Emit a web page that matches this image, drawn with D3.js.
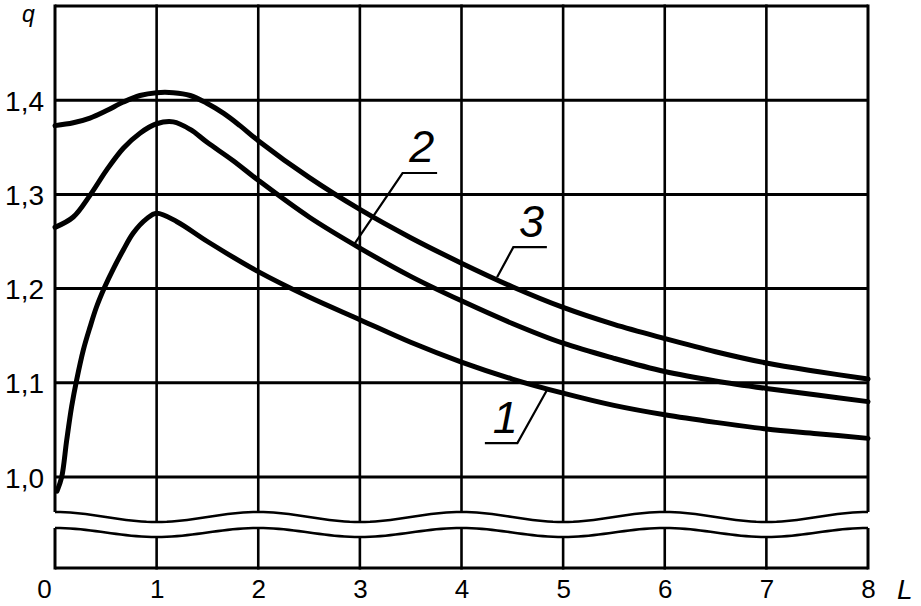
<!DOCTYPE html>
<html><head><meta charset="utf-8">
<script src="https://cdn.jsdelivr.net/npm/d3@7"></script>
<style>body{margin:0;background:#fff}svg{display:block}</style>
</head><body>
<svg id="c" width="921" height="606"></svg>
<script>
// ---- data ----
const xTicks = [0,1,2,3,4,5,6,7,8];
const yTicks = [1.0,1.1,1.2,1.3,1.4];
const yTickLabels = ["1,0","1,1","1,2","1,3","1,4"];
const yTop = 1.5;

const L1 = [0.02,0.066,0.115,0.164,0.213,0.279,0.344,0.41,0.49,0.574,0.672,0.77,0.9,1.0,1.2,1.5,2,2.5,3,3.5,4,4.5,5,5.5,6,6.5,7,7.5,8];
const q1 = [0.985,1.0,1.039,1.075,1.103,1.135,1.159,1.181,1.202,1.221,1.241,1.259,1.274,1.280,1.271,1.250,1.218,1.191,1.167,1.143,1.122,1.104,1.089,1.076,1.066,1.058,1.051,1.046,1.041];

const L2 = [0,0.18,0.344,0.509,0.672,0.836,1.0,1.164,1.33,1.5,1.75,2,2.5,3,3.5,4,4.5,5,5.5,6,6.5,7,7.5,8];
const q2 = [1.265,1.276,1.299,1.326,1.349,1.365,1.375,1.377,1.369,1.355,1.336,1.315,1.276,1.243,1.213,1.187,1.163,1.142,1.126,1.112,1.102,1.094,1.087,1.080];

const L3 = [0,0.18,0.344,0.509,0.672,0.836,1.0,1.164,1.33,1.49,1.66,1.82,2,2.5,3,3.5,4,4.5,5,5.5,6,6.5,7,7.5,8];
const q3 = [1.373,1.376,1.381,1.389,1.398,1.405,1.408,1.408,1.405,1.397,1.386,1.373,1.357,1.318,1.284,1.254,1.227,1.202,1.180,1.162,1.147,1.133,1.121,1.112,1.104];

const curveNames = ["1","2","3"];
// callouts (data coords): text position, shelf start/end, pointer tip
const calloutText  = [[4.43,1.047],[3.61,1.334],[4.69,1.255]];
const calloutShelf = [[4.23,4.55,1.036],[3.42,3.76,1.3227],[4.51,4.84,1.244]];
const calloutTip   = [[4.84,1.092],[2.95,1.248],[4.35,1.212]];

// ---- layout ----
const svg = d3.select("#c");
const x = d3.scaleLinear([0,8],[55,868]);
const y = d3.scaleLinear([1.0,yTop],[477,6]);
const bottomY = 568;
const wave1 = {c: y(1.0)+40, a: 5};
const wave2 = {c: y(1.0)+55.5, a: 4.5};
const wy = (w,L) => w.c - w.a*Math.cos(Math.PI*L);

const g = svg.append("g");

// horizontal grid + top border
g.selectAll("line.h").data(yTicks.concat([yTop])).join("line")
  .attr("x1", x(0)).attr("x2", x(8))
  .attr("y1", d=>y(d)).attr("y2", d=>y(d))
  .attr("stroke","#000").attr("stroke-width",3);

// vertical grid upper part
g.selectAll("line.vu").data(xTicks).join("line")
  .attr("x1", d=>x(d)).attr("x2", d=>x(d))
  .attr("y1", y(yTop)-1.5).attr("y2", d=>wy(wave1,d))
  .attr("stroke","#000").attr("stroke-width",d=>(d===0||d===8)?3:2.6);
// vertical grid lower part
g.selectAll("line.vl").data(xTicks).join("line")
  .attr("x1", d=>x(d)).attr("x2", d=>x(d))
  .attr("y1", d=>wy(wave2,d)).attr("y2", bottomY+1.5)
  .attr("stroke","#000").attr("stroke-width",d=>(d===0||d===8)?3:2.6);
// bottom line
g.append("line").attr("x1",x(0)).attr("x2",x(8)).attr("y1",bottomY).attr("y2",bottomY)
  .attr("stroke","#000").attr("stroke-width",3);

// break waves
const waveL = d3.range(0, 8.0001, 0.05);
[wave1,wave2].forEach(w=>{
  g.append("path")
    .attr("d", d3.line().x(L=>x(L)).y(L=>wy(w,L))(waveL))
    .attr("fill","none").attr("stroke","#000").attr("stroke-width",2.6);
});

// curves
const series = [[L1,q1],[L2,q2],[L3,q3]];
const line = d3.line().x(d=>x(d[0])).y(d=>y(d[1])).curve(d3.curveCatmullRom.alpha(0.5));
series.forEach(([Ls,qs])=>{
  g.append("path")
    .attr("d", line(Ls.map((L,i)=>[L,qs[i]])))
    .attr("fill","none").attr("stroke","#000").attr("stroke-width",5)
    .attr("stroke-linecap","round").attr("stroke-linejoin","round");
});

// callouts
const font = "'Liberation Sans', Arial, sans-serif";
curveNames.forEach((name,i)=>{
  const s = calloutShelf[i], t = calloutTip[i], p = calloutText[i];
  const fromRight = (i===0); // label 1 pointer leaves from right end of shelf
  const jx = fromRight ? s[1] : s[0];
  g.append("path")
    .attr("d", d3.line()([[x(fromRight?s[0]:s[1]),y(s[2])],[x(jx),y(s[2])],[x(t[0]),y(t[1])]]))
    .attr("fill","none").attr("stroke","#000").attr("stroke-width",2.2);
  g.append("text").attr("x",x(p[0])).attr("y",y(p[1]))
    .attr("text-anchor","middle")
    .attr("font-family",font)
    .attr("font-style","italic").attr("font-size",45).text(name);
});

// axes labels
const ya = svg.append("g").attr("transform",`translate(${x(0)},0)`)
  .call(d3.axisLeft(y).tickValues(yTicks).tickFormat((d,i)=>yTickLabels[i]).tickSize(0).tickPadding(11));
ya.select(".domain").remove();
ya.selectAll("text").attr("font-family",font).attr("font-size",28).attr("dy","0.36em").attr("fill","#000");

const xa = svg.append("g").attr("transform",`translate(0,${bottomY})`)
  .call(d3.axisBottom(x).tickValues(xTicks).tickFormat(d3.format("d")).tickSize(0).tickPadding(12));
xa.select(".domain").remove();
xa.selectAll("text").attr("font-family",font).attr("font-size",26).attr("fill","#000")
  .attr("dx",(d)=> d===0 ? -11 : 0);

svg.append("text").attr("x",22).attr("y",22).attr("font-family",font)
  .attr("font-style","italic").attr("font-size",23).text("q");
svg.append("text").attr("x",897).attr("y",599).attr("font-family",font)
  .attr("font-style","italic").attr("font-size",28).text("L");
</script>
</body></html>
